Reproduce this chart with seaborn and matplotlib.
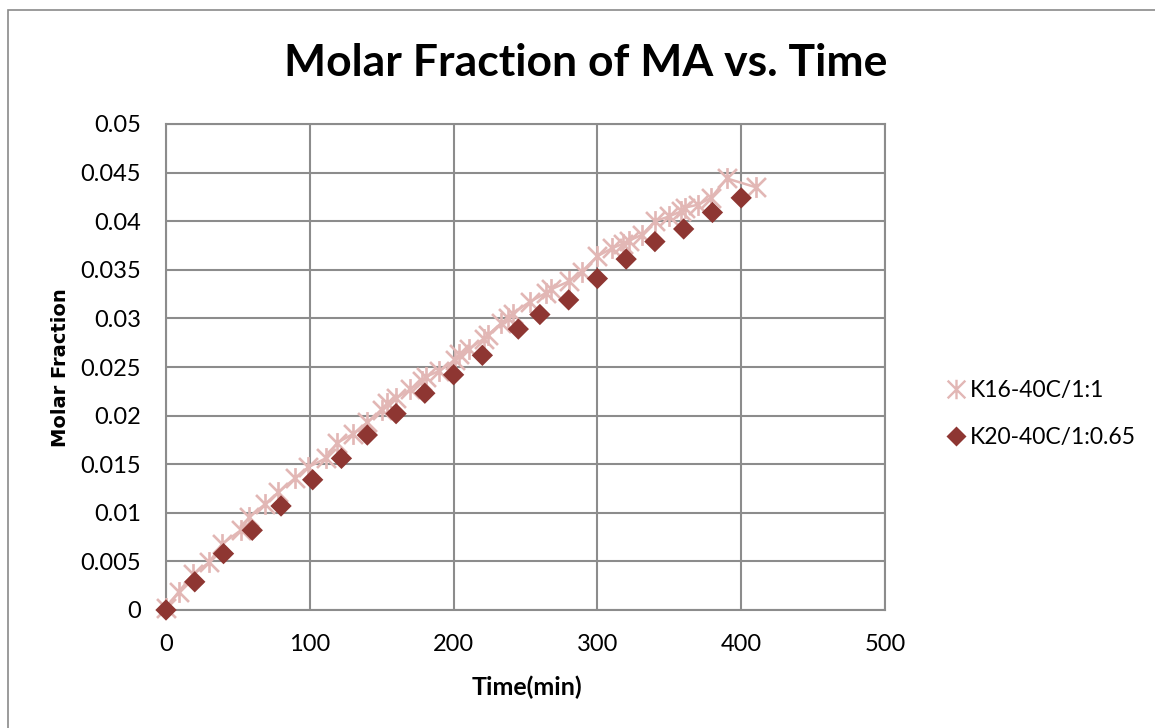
import matplotlib
matplotlib.use("Agg")
import matplotlib.pyplot as plt
from matplotlib.path import Path
from matplotlib.lines import Line2D
from matplotlib.patches import Rectangle
import seaborn as sns
import pandas as pd

# Series K16-40C/1:1 (time in min, molar fraction)
k16_time = [0, 0, 9, 19, 30, 39, 52, 58, 69, 78, 90, 99, 111, 119, 130, 140,
            150, 154, 160, 170, 178, 181, 190, 201, 204, 211, 221, 224, 233,
            238, 241, 253, 264, 268, 280, 289, 300, 310, 318, 322, 331, 340,
            350, 358, 361, 370, 379, 390, 410]
k16_frac = [0.0000, 0.0005, 0.0019, 0.0037, 0.0049, 0.0068, 0.0082, 0.0096,
            0.0109, 0.0121, 0.0136, 0.0147, 0.0156, 0.0172, 0.0181, 0.0193,
            0.0206, 0.0213, 0.0218, 0.0227, 0.0236, 0.0240, 0.0246, 0.0257,
            0.0263, 0.0269, 0.0279, 0.0283, 0.0295, 0.0300, 0.0305, 0.0317,
            0.0326, 0.0330, 0.0338, 0.0348, 0.0364, 0.0372, 0.0377, 0.0380,
            0.0386, 0.0400, 0.0405, 0.0410, 0.0414, 0.0417, 0.0424, 0.0444,
            0.0435]

# Series K20-40C/1:0.65
k20_time = [0, 20, 40, 60, 80, 102, 122, 140, 160, 180, 200, 220, 245, 260,
            280, 300, 320, 340, 360, 380, 400]
k20_frac = [0.0000, 0.0029, 0.0058, 0.0082, 0.0107, 0.0134, 0.0156, 0.0180,
            0.0202, 0.0223, 0.0242, 0.0262, 0.0289, 0.0304, 0.0319, 0.0341,
            0.0361, 0.0379, 0.0392, 0.0409, 0.0424]

labels = ["K16-40C/1:1", "K20-40C/1:0.65"]
x_ticks = [0, 100, 200, 300, 400, 500]
y_ticks = [0, 0.005, 0.01, 0.015, 0.02, 0.025, 0.03, 0.035, 0.04, 0.045, 0.05]
y_tick_labels = ["0", "0.005", "0.01", "0.015", "0.02", "0.025", "0.03",
                 "0.035", "0.04", "0.045", "0.05"]

PINK = "#E2B7B5"
DARK = "#8E3632"
GRID = "#8C8C8C"

sns.set_theme(style="white")
plt.rcParams["font.family"] = ["Lato", "DejaVu Sans"]
plt.rcParams["text.color"] = "black"
plt.rcParams["axes.labelcolor"] = "black"

# Asterisk marker: an X crossed by a vertical stroke
star_path = Path(
    [(-0.5, -0.5), (0.5, 0.5), (-0.5, 0.5), (0.5, -0.5), (0, -0.55), (0, 0.55)],
    [Path.MOVETO, Path.LINETO, Path.MOVETO, Path.LINETO, Path.MOVETO, Path.LINETO],
)

df16 = pd.DataFrame({"time": k16_time, "frac": k16_frac})
df20 = pd.DataFrame({"time": k20_time, "frac": k20_frac})

fig = plt.figure(figsize=(11.55, 7.28), dpi=100)
ax = fig.add_axes([166 / 1155, 1 - 610 / 728, (885 - 166) / 1155, (610 - 124) / 728])

sns.lineplot(data=df16, x="time", y="frac", sort=False, ax=ax, color=PINK,
             linewidth=1.8, marker=star_path, markersize=15,
             markeredgewidth=1.9, markeredgecolor=PINK, markerfacecolor="none",
             zorder=3, clip_on=False)
sns.scatterplot(data=df20, x="time", y="frac", ax=ax, color=DARK, marker="D",
                s=118, edgecolor="none", linewidth=0, zorder=4, clip_on=False)

ax.set_xlim(0, 500)
ax.set_ylim(0, 0.05)
ax.set_xticks(x_ticks)
ax.set_xticklabels([str(t) for t in x_ticks])
ax.set_yticks(y_ticks)
ax.set_yticklabels(y_tick_labels)
ax.tick_params(axis="both", length=0, labelsize=17, colors="black")
ax.tick_params(axis="x", pad=17)
ax.tick_params(axis="y", pad=18)

ax.grid(True, color=GRID, linewidth=1.5)
ax.set_axisbelow(True)
for sp in ax.spines.values():
    sp.set_visible(True)
    sp.set_color(GRID)
    sp.set_linewidth(1.5)

ax.set_xlabel("Time(min)", fontsize=18, fontweight="bold", va="center",
              color="black")
ax.xaxis.set_label_coords((527 - 166) / 719, (610 - 687) / 486)
ax.set_ylabel("Molar Fraction", fontsize=14, fontweight="bold",
              family=["DejaVu Sans"], va="center", color="black")
ax.yaxis.set_label_coords((60 - 166) / 719, (610 - 368) / 486)

fig.text(586 / 1155, 1 - 63 / 728, "Molar Fraction of MA vs. Time",
         ha="center", va="center", fontsize=32, fontweight="bold",
         color="black")

handles = [
    Line2D([], [], linestyle="none", marker=star_path, markersize=14,
           markeredgewidth=1.7, markeredgecolor=PINK, markerfacecolor="none"),
    Line2D([], [], linestyle="none", marker="D", markersize=10,
           markerfacecolor=DARK, markeredgecolor="none"),
]
fig.legend(handles, labels, loc="center left",
           bbox_to_anchor=(945.5 / 1155, 1 - 414 / 728), frameon=False,
           fontsize=16.5, handlelength=0.9, handletextpad=0.15,
           labelspacing=1.16, borderpad=0, borderaxespad=0,
           labelcolor="black")

# Chart outline
fig.patches.append(Rectangle((7.5 / 1155, -0.01), 1.02, 1 - 10.5 / 728 + 0.01,
                             transform=fig.transFigure, fill=False,
                             edgecolor="#8A8A8A", linewidth=1.2))

fig.savefig("out.png", dpi=100, facecolor="white")
